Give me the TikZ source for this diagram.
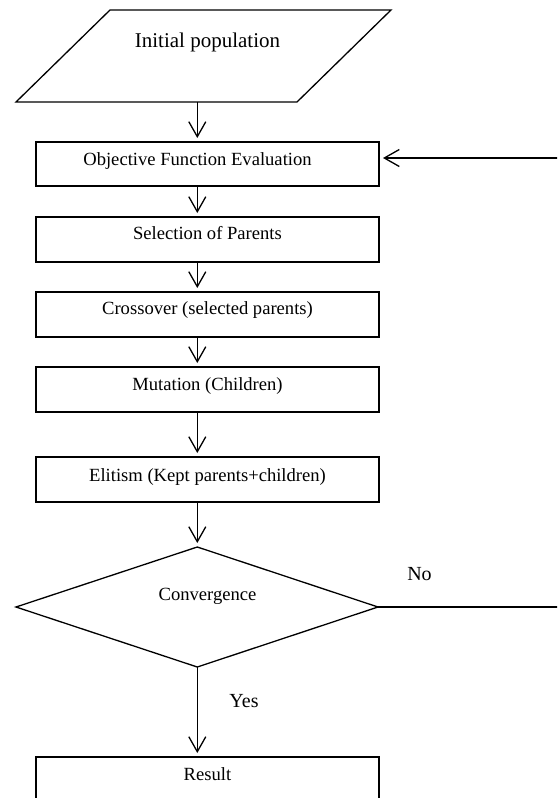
\documentclass[tikz,border=0pt]{standalone}
\usepackage{fontspec}
\setmainfont{Liberation Serif}
\usetikzlibrary{arrows.meta}
\begin{document}
\begin{tikzpicture}[x=1pt,y=-1pt, line width=1.3pt,
  arr/.style={-{Straight Barb[length=15pt,width=17pt]}, shorten >=4pt},
  box/.style={draw, minimum width=343pt, inner sep=0pt, outer sep=0pt, anchor=north west,
              font=\fontsize{18.6}{20}\selectfont},
  lbl/.style={font=\fontsize{20}{22}\selectfont, inner sep=0pt, anchor=base},
  txt/.style={font=\fontsize{18.6}{20}\selectfont, inner sep=0pt, anchor=base}]
\useasboundingbox (0,0) rectangle (557,798);
\clip (0,0) rectangle (557,798);

% initial population (parallelogram)
\coordinate (p1) at (110,10);
\coordinate (p2) at (391,10);
\coordinate (p3) at (297,102);
\coordinate (p4) at (16,102);
\draw[line join=miter] (p1) -- (p2) -- (p3) -- (p4) -- cycle;
\node[font=\fontsize{21}{24}\selectfont, inner sep=0pt, anchor=base] (init) at (207.5,47) {Initial population};
\coordinate (pb) at (197.3,102);
\coordinate (ax) at (197.3,0);

% boxes
\node[box, text height=23pt, text depth=21pt] (b1) at (36,142)
  {\hbox to 343pt{\hfil Objective Function Evaluation\hfil\hskip20pt}};
\node[box, text height=22pt, text depth=23pt] (b2) at (36,217) {Selection of Parents};
\node[box, text height=22pt, text depth=23pt] (b3) at (36,292) {Crossover (selected parents)};
\node[box, text height=23pt, text depth=22pt] (b4) at (36,367) {Mutation (Children)};
\node[box, text height=24pt, text depth=21pt] (b5) at (36,457) {Elitism (Kept parents+children)};
\node[box, text height=23pt, text depth=22pt] (res) at (36,757) {Result};

% decision diamond
\coordinate (dt) at (197.3,547);
\coordinate (dl) at (16,607);
\coordinate (dr) at (378,607);
\coordinate (db) at (197.3,667);
\draw[line join=miter] (dt) -- (dr) -- (db) -- (dl) -- cycle;
\node[txt] (conv) at (207.5,600) {Convergence};

% connectors
\draw[arr] (pb) -- (b1.north -| ax);
\draw[arr] (b1.south -| ax) -- (b2.north -| ax);
\draw[arr] (b2.south -| ax) -- (b3.north -| ax);
\draw[arr] (b3.south -| ax) -- (b4.north -| ax);
\draw[arr] (b4.south -| ax) -- (b5.north -| ax);
\draw[arr] (b5.south -| ax) -- (dt);
\draw[arr] (db) -- (res.north -| ax);

% feedback loop (No)
\coordinate (fr) at (560,607);
\coordinate (ft) at (560,158);
\draw (dr) -- (fr);
\draw[arr] (ft) -- (ft -| b1.east);

% labels
\node[lbl] (no) at (419.5,580) {No};
\node[lbl] (yes) at (244,707) {Yes};
\end{tikzpicture}
\end{document}
